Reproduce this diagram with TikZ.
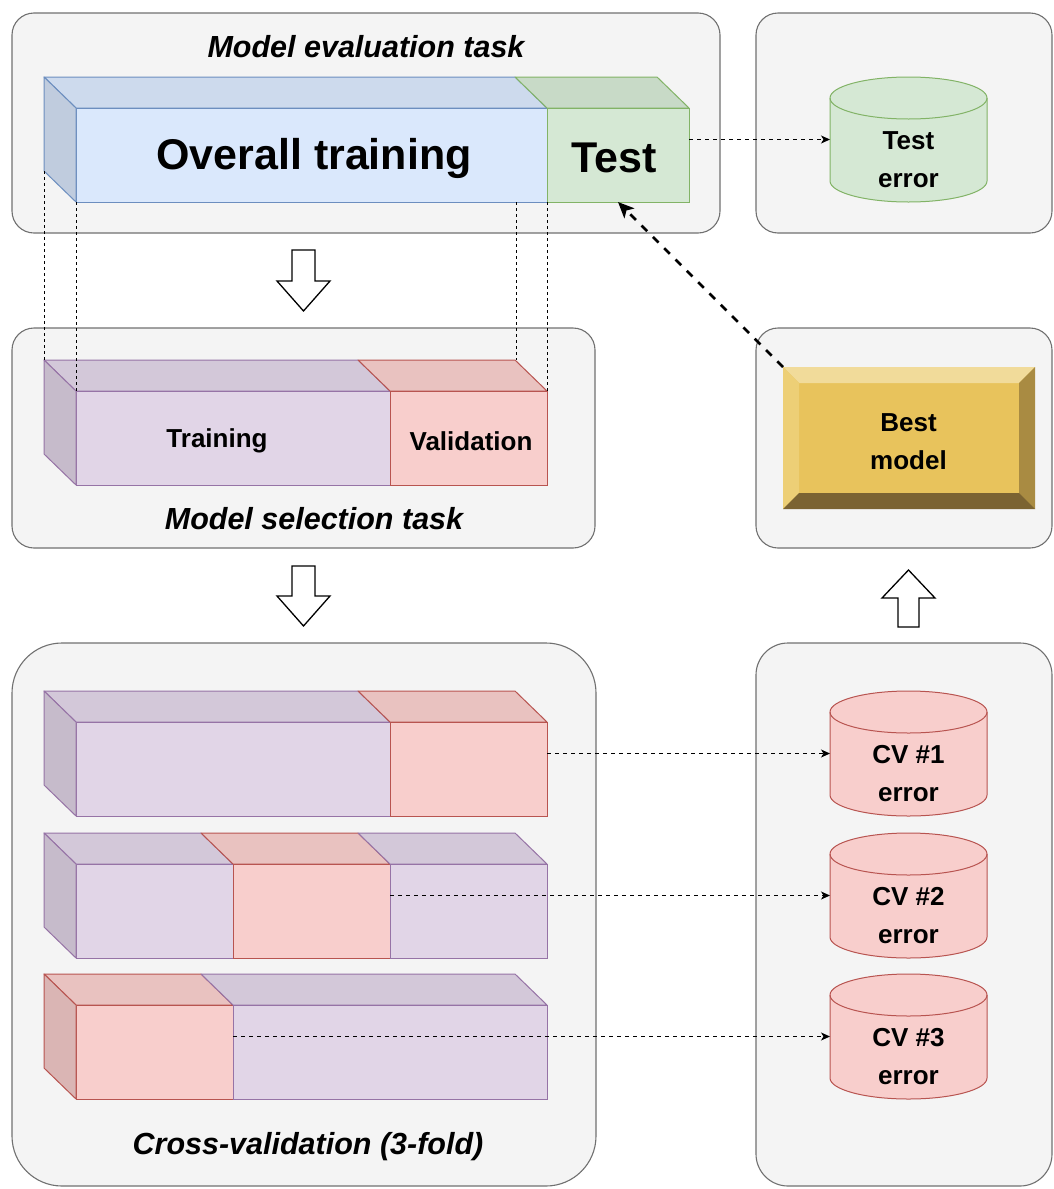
\documentclass[tikz,border=0pt]{standalone}
\usepackage{fontspec}
\setmainfont{Liberation Sans}
\usetikzlibrary{arrows.meta,calc}

\definecolor{bluef}{HTML}{DAE8FC}\definecolor{bluel}{HTML}{6C8EBF}
\definecolor{greenf}{HTML}{D5E8D4}\definecolor{greenl}{HTML}{82B366}
\definecolor{purf}{HTML}{E1D5E7}\definecolor{purl}{HTML}{9673A6}
\definecolor{redf}{HTML}{F8CECC}\definecolor{redl}{HTML}{B85450}
\definecolor{contf}{HTML}{F4F4F4}\definecolor{contl}{HTML}{707070}
\definecolor{bevmain}{HTML}{E8C35C}\definecolor{bevtop}{HTML}{F1DB9A}
\definecolor{bevleft}{HTML}{EDCF76}\definecolor{bevright}{HTML}{A98B42}
\definecolor{bevbot}{HTML}{7B6332}

\tikzset{
  container/.style={draw=contl, fill=contf, line width=1.1pt},
  ttl/.style={font=\fontsize{30.5}{36}\selectfont\bfseries\itshape, inner sep=0},
  lbl/.style={font=\fontsize{26}{38}\selectfont\bfseries, inner sep=0, align=center},
  biglbl/.style={font=\fontsize{43}{50}\selectfont\bfseries},
  blockarrow/.style={draw=black, fill=white, line width=1.3pt, line join=miter},
  thindash/.style={draw=black, line width=0.8pt, dash pattern=on 3pt off 3pt},
  dasharrow/.style={draw=black, line width=1pt, dash pattern=on 4pt off 4pt, -{Stealth[length=9pt,width=8pt,inset=2.5pt]}},
  thickarrow/.style={draw=black, line width=2.6pt, dash pattern=on 8pt off 8pt, -{Stealth[length=16pt,width=14pt,inset=4pt]}},
  frontface/.style={inner sep=0, outer sep=0, minimum height=94, line width=1pt},
  cylbox/.style={inner sep=0, outer sep=0, minimum width=157, minimum height=125},
}

% cube segment: name, x0, x1, front top y, colour prefix, text
\newcommand\cseg[6]{%
  \path[draw=#5l, fill=#5f!94!black, line width=1pt, line join=round]
    (#2,#4) -- (#2-32,#4-31) -- (#3-32,#4-31) -- (#3,#4) -- cycle;
  \node[frontface, draw=#5l, fill=#5f, minimum width={#3-#2}, anchor=north west] (#1) at (#2,#4) {#6};
}
% left side face of a bar
\newcommand\cside[2]{%
  \path[draw=#2l, fill=#2f!88!black, line width=1pt, line join=round]
    (#1.north west) -- ++(-32,-31) -- ++(0,94) -- (#1.south west) -- cycle;
}
% cylinder: name, centre x, top y, colour prefix, text
\newcommand\mycyl[5]{%
  \node[cylbox] (#1) at (#2,#3+62.5) {};
  \path[draw=#4l, fill=#4f, line width=1pt]
    ($(#1.north west)+(0,21)$) -- ($(#1.south west)+(0,-21)$)
    arc[start angle=180, end angle=0, x radius=78.5, y radius=21]
    -- ($(#1.north east)+(0,21)$)
    arc[start angle=0, end angle=-180, x radius=78.5, y radius=21] -- cycle;
  \draw[#4l, line width=1pt] ($(#1.north west)+(0,21)$)
    arc[start angle=180, end angle=0, x radius=78.5, y radius=21];
  \node[lbl] (#1t) at ($(#1.center)+(0,20.5)$) {#5};
}

\begin{document}
\begin{tikzpicture}[x=1pt, y=-1pt]
\useasboundingbox (0,0) rectangle (1054,1189);

% containers
\draw[container, rounded corners=22pt] (12,13) rectangle (720,233);
\draw[container, rounded corners=22pt] (756,13) rectangle (1052,233);
\draw[container, rounded corners=22pt] (12,328) rectangle (595,548);
\draw[container, rounded corners=22pt] (756,328) rectangle (1052,548);
\draw[container, rounded corners=50pt] (12,643) rectangle (596,1186);
\draw[container, rounded corners=32pt] (756,643) rectangle (1052,1186);

% titles
\node[ttl] (t1) at (366,47) {Model evaluation task};
\node[ttl] (t2) at (314,519) {Model selection task};
\node[ttl] (t3) at (308,1147) {Cross-validation (3-fold)};

% top bar
\cseg{ot}{76}{547}{108}{blue}{}
\cside{ot}{blue}
\cseg{te}{547}{689}{108}{green}{}
\node[biglbl] (otl) at (314,158) {Overall training};
\node[biglbl] (tel) at (614,158) {Test};

% model selection bar
\cseg{tr}{76}{390}{391}{pur}{}
\cside{tr}{pur}
\cseg{va}{390}{547}{391}{red}{}
\node[lbl] (trl) at (217,441) {Training};
\node[lbl] (val) at (471,441) {Validation};

% dashed projection lines
\coordinate (otbl) at ($(ot.south west)+(-32,-31)$);
\coordinate (trtl) at ($(tr.north west)+(-32,-31)$);
\coordinate (otbr) at ($(ot.south east)+(-31,0)$);
\coordinate (vatr) at ($(va.north east)+(-31,-31)$);
\draw[thindash] (otbl) -- (trtl);
\draw[thindash] (ot.south west) -- (tr.north west);
\draw[thindash] (otbr) -- (vatr);
\draw[thindash] (ot.south east) -- (va.north east);

% cross-validation bars
\cseg{fa}{76}{390}{722}{pur}{}
\cside{fa}{pur}
\cseg{fb}{390}{547}{722}{red}{}

\cseg{ga}{76}{233}{864}{pur}{}
\cside{ga}{pur}
\cseg{gb}{233}{390}{864}{red}{}
\cseg{gc}{390}{547}{864}{pur}{}

\cseg{ha}{76}{233}{1005}{red}{}
\cside{ha}{red}
\cseg{hb}{233}{547}{1005}{pur}{}

% cylinders
\mycyl{errT}{908.5}{77}{green}{Test\\error}
\mycyl{cv1}{908.5}{691}{red}{CV \#1\\error}
\mycyl{cv2}{908.5}{833}{red}{CV \#2\\error}
\mycyl{cv3}{908.5}{974}{red}{CV \#3\\error}

% best model bevel
\node[inner sep=0, outer sep=0, minimum width=252, minimum height=142, anchor=north west] (bm) at (783,367) {};
\fill[bevmain] (bm.north west) rectangle (bm.south east);
\fill[bevtop] (bm.north west) -- (bm.north east) -- ($(bm.north east)+(-16,16)$) -- ($(bm.north west)+(16,16)$) -- cycle;
\fill[bevleft] (bm.north west) -- ($(bm.north west)+(16,16)$) -- ($(bm.south west)+(16,-16)$) -- (bm.south west) -- cycle;
\fill[bevright] (bm.north east) -- (bm.south east) -- ($(bm.south east)+(-16,-16)$) -- ($(bm.north east)+(-16,16)$) -- cycle;
\fill[bevbot] (bm.south west) -- ($(bm.south west)+(16,-16)$) -- ($(bm.south east)+(-16,-16)$) -- (bm.south east) -- cycle;
\node[lbl] (bml) at (908.5,442) {Best\\model};

% connectors
\draw[dasharrow] ([yshift=15.5pt]te.east) -- (errT.west);
\draw[dasharrow] ([yshift=15.5pt]fb.east) -- (cv1.west);
\draw[dasharrow] ([yshift=15.5pt]gb.east) -- (cv2.west);
\draw[dasharrow] ([yshift=15.5pt]ha.east) -- (cv3.west);
\draw[thickarrow] (bm.north west) -- (te.south);

% block arrows
\draw[blockarrow] (292,250) -- (315,250) -- (315,281) -- (330,281) -- (303.5,311) -- (277,281) -- (292,281) -- cycle;
\draw[blockarrow] (292,566) -- (315,566) -- (315,596) -- (330,596) -- (303.5,626) -- (277,596) -- (292,596) -- cycle;
\draw[blockarrow] (908.5,570) -- (935,598) -- (919,598) -- (919,627) -- (898,627) -- (898,598) -- (882,598) -- cycle;
\end{tikzpicture}
\end{document}
